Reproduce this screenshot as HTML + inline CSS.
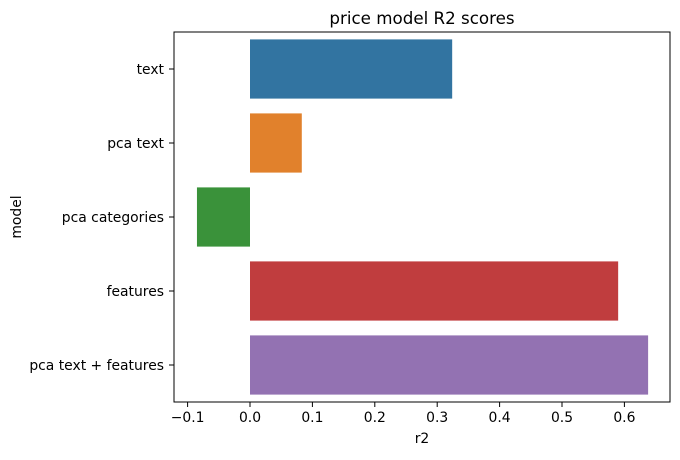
<!DOCTYPE html>
<html><head><meta charset="utf-8"><style>
body{margin:0;background:#fff;}
svg text{font-family:"DejaVu Sans","Liberation Sans",sans-serif;fill:#000;}
</style></head><body>
<svg id="chart" width="680" height="455" viewBox="0 0 680 455" xmlns="http://www.w3.org/2000/svg">
<text x="422" y="24" font-size="16.7" text-anchor="middle">price model R2 scores</text>
<g id="marks"></g>
<rect x="174" y="32" width="496" height="370" fill="none" stroke="#000" stroke-width="1"/>
<g id="xticks"></g>
<g id="yticks"></g>
<text x="422" y="443" font-size="13.9" text-anchor="middle">r2</text>
<text x="21" y="217" font-size="13.9" text-anchor="middle" transform="rotate(-90 21 217)">model</text>
</svg>
<script>
const categories = ["text","pca text","pca categories","features","pca text + features"];
const r2Values = [0.324, 0.083, -0.085, 0.59, 0.638];
const barColors = ["#3274a1","#e1812c","#3a923a","#c03d3e","#9372b2"];
const xTickValues = [-0.1,0.0,0.1,0.2,0.3,0.4,0.5,0.6];
const xTickLabels = ["−0.1","0.0","0.1","0.2","0.3","0.4","0.5","0.6"];

const NS="http://www.w3.org/2000/svg";
const plotTop=32, plotBottom=402;
function xScale(v){return 250 + v*624;}
const band=(plotBottom-plotTop)/categories.length;
function yCenter(i){return plotTop + band*(i+0.5);}
function mk(tag,attrs,parent){const e=document.createElementNS(NS,tag);for(const k in attrs)e.setAttribute(k,attrs[k]);parent.appendChild(e);return e;}

const marks=document.getElementById('marks');
categories.forEach((c,i)=>{
  const x0=Math.min(xScale(0),xScale(r2Values[i])), x1=Math.max(xScale(0),xScale(r2Values[i]));
  const r=mk('rect',{x:x0,y:yCenter(i)-band*0.4,width:x1-x0,height:band*0.8,fill:barColors[i]},marks);
  
  
});
const xt=document.getElementById('xticks');
xTickValues.forEach((v,i)=>{
  const x=xScale(v);
  const l=mk('line',{x1:x,x2:x,y1:plotBottom,y2:plotBottom+5,stroke:'#000'},xt);
  
  
  const t=mk('text',{x:x,y:plotBottom+20,'font-size':13.9,'text-anchor':'middle'},xt);
  t.textContent=xTickLabels[i];
  
  
});
const yt=document.getElementById('yticks');
categories.forEach((c,i)=>{
  const y=yCenter(i);
  const l=mk('line',{x1:169,x2:174,y1:y,y2:y,stroke:'#000'},yt);
  
  
  const t=mk('text',{x:164,y:y+5,'font-size':13.9,'text-anchor':'end'},yt);
  t.textContent=c;
  
  
});
</script>
</body></html>
